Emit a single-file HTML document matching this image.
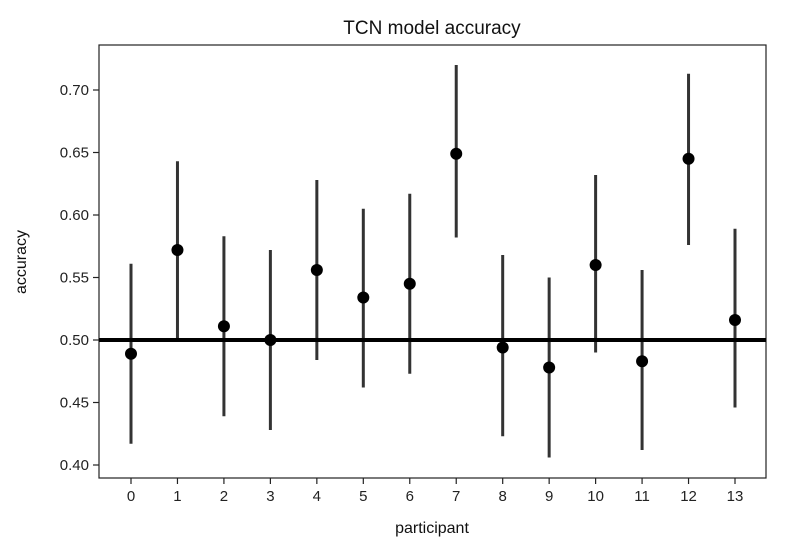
<!DOCTYPE html>
<html><head><meta charset="utf-8"><style>
html,body{margin:0;padding:0;background:#fff;}
svg{display:block;font-family:"Liberation Sans","DejaVu Sans",sans-serif;}
</style></head><body>
<svg id="chart" width="787" height="551" viewBox="0 0 787 551" xmlns="http://www.w3.org/2000/svg">
<text x="432" y="34" text-anchor="middle" font-size="19" fill="#111">TCN model accuracy</text>
<g id="axes"></g>
<g id="marks"></g>
<text x="432" y="533" text-anchor="middle" font-size="16" fill="#111">participant</text>
<text transform="translate(26,262) rotate(-90)" text-anchor="middle" font-size="16" fill="#111">accuracy</text>
</svg>
<script>
const categories=["0","1","2","3","4","5","6","7","8","9","10","11","12","13"];
const means=[0.489,0.572,0.511,0.500,0.556,0.534,0.545,0.649,0.494,0.478,0.560,0.483,0.645,0.516];
const lows=[0.417,0.501,0.439,0.428,0.484,0.462,0.473,0.582,0.423,0.406,0.490,0.412,0.576,0.446];
const highs=[0.561,0.643,0.583,0.572,0.628,0.605,0.617,0.720,0.568,0.550,0.632,0.556,0.713,0.589];
const yTicks=[0.40,0.45,0.50,0.55,0.60,0.65,0.70];
const chance=0.5;
const L=99,R=766,T=45,B=478,yMin=0.3896,yMax=0.7360;
const x0=131,x1=735;
const NS="http://www.w3.org/2000/svg";
function xs(i){return x0+(x1-x0)*i/(categories.length-1);}
function ys(v){return B-(v-yMin)/(yMax-yMin)*(B-T);}
function mk(t,a,p){const e=document.createElementNS(NS,t);for(const k in a)e.setAttribute(k,a[k]);p.appendChild(e);return e;}
const ax=document.getElementById('axes'),mg=document.getElementById('marks');
yTicks.forEach(v=>{
 const l=mk('line',{x1:L-6,x2:L,y1:ys(v),y2:ys(v),stroke:'#222','stroke-width':1.2},ax);
 
 
 const t=mk('text',{x:L-10,y:ys(v)+5,'text-anchor':'end','font-size':15,fill:'#222'},ax);
 t.textContent=v.toFixed(2);
 
 
});
categories.forEach((c,i)=>{
 const l=mk('line',{x1:xs(i),x2:xs(i),y1:B,y2:B+6,stroke:'#222','stroke-width':1.2},ax);
 
 
 const t=mk('text',{x:xs(i),y:B+23,'text-anchor':'middle','font-size':15,fill:'#222'},ax);
 t.textContent=c;
 
 
});
const fr=mk('rect',{x:L,y:T,width:R-L,height:B-T,fill:'none',stroke:'#222','stroke-width':1.2},ax);


categories.forEach((c,i)=>{
 const e=mk('line',{x1:xs(i),x2:xs(i),y1:ys(lows[i]),y2:ys(highs[i]),stroke:'#333','stroke-width':3},mg);
 
 
});
const h=mk('line',{x1:L,x2:R,y1:ys(chance),y2:ys(chance),stroke:'#000','stroke-width':4},mg);


categories.forEach((c,i)=>{
 const p=mk('circle',{cx:xs(i),cy:ys(means[i]),r:6,fill:'#000'},mg);
 
 
});
</script>
</body></html>
